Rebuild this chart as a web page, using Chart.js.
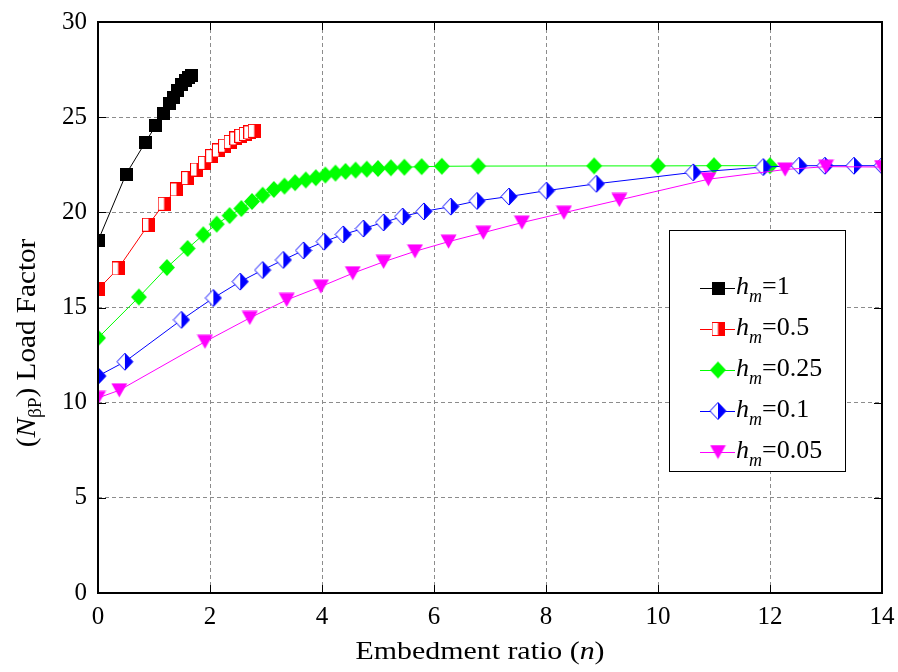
<!DOCTYPE html>
<html>
<head>
<meta charset="utf-8">
<script src="https://cdn.jsdelivr.net/npm/chart.js@4.4.0/dist/chart.umd.min.js"></script>
<style>
  html, body { margin: 0; padding: 0; background: #fff; }
  canvas { display: block; }
</style>
</head>
<body>
<canvas id="chart" width="898" height="672"></canvas>
<script>
// values
const hmLabels = ['1', '0.5', '0.25', '0.1', '0.05'];

const hm1X = [0, 0.5, 0.84, 1.03, 1.17, 1.27, 1.35, 1.42, 1.49, 1.56, 1.62, 1.67];
const hm1Y = [18.5, 22.0, 23.65, 24.55, 25.2, 25.7, 26.05, 26.4, 26.7, 26.95, 27.1, 27.2];

const hm05X = [0, 0.36, 0.9, 1.18, 1.4, 1.6, 1.76, 1.9, 2.03, 2.15, 2.26, 2.36, 2.46, 2.55, 2.63, 2.71, 2.79];
const hm05Y = [15.95, 17.05, 19.35, 20.45, 21.2, 21.8, 22.25, 22.6, 22.95, 23.25, 23.5, 23.7, 23.88, 24.02, 24.12, 24.2, 24.28];

const hm025X = [0, 0.73, 1.23, 1.6, 1.88, 2.12, 2.35, 2.56, 2.75, 2.94, 3.14, 3.33, 3.52, 3.71, 3.89, 4.06, 4.24, 4.42, 4.6, 4.8, 5.0, 5.23, 5.47, 5.78, 6.14, 6.79, 8.86, 10.0, 11.0, 12.0];
const hm025Y = [13.4, 15.55, 17.1, 18.1, 18.82, 19.38, 19.83, 20.2, 20.57, 20.9, 21.2, 21.38, 21.56, 21.7, 21.82, 21.96, 22.06, 22.15, 22.22, 22.27, 22.3, 22.34, 22.37, 22.4, 22.42, 22.43, 22.44, 22.44, 22.45, 22.45];

const hm01X = [0, 0.48, 1.49, 2.06, 2.54, 2.94, 3.31, 3.67, 4.04, 4.38, 4.74, 5.1, 5.44, 5.82, 6.3, 6.77, 7.34, 8.01, 8.9, 10.63, 11.88, 12.52, 12.98, 13.5, 14.0];
const hm01Y = [11.4, 12.15, 14.35, 15.5, 16.36, 16.97, 17.5, 18.0, 18.46, 18.84, 19.15, 19.47, 19.78, 20.05, 20.3, 20.6, 20.83, 21.14, 21.5, 22.1, 22.38, 22.45, 22.45, 22.45, 22.45];

const hm005X = [0, 0.38, 1.91, 2.71, 3.37, 3.98, 4.55, 5.1, 5.66, 6.26, 6.88, 7.57, 8.32, 9.31, 10.9, 12.27, 13.0, 14.0];
const hm005Y = [10.25, 10.65, 13.2, 14.45, 15.4, 16.1, 16.8, 17.4, 17.95, 18.46, 18.93, 19.46, 19.98, 20.65, 21.74, 22.25, 22.4, 22.38];

const xTickValues = [0, 2, 4, 6, 8, 10, 12, 14];
const yTickValues = [0, 5, 10, 15, 20, 25, 30];

const serif = '"Liberation Serif", "Times New Roman", serif';

// marker images (MATLAB style)
function makeMarker(kind, color) {
  const c = document.createElement('canvas');
  const g = c.getContext('2d');
  if (kind === 'square') {
    c.width = 13; c.height = 13;
    g.fillStyle = color;
    g.fillRect(0, 0, 13, 13);
  } else if (kind === 'halfSquare') {
    c.width = 13; c.height = 14;
    g.fillStyle = '#fff';
    g.fillRect(0.5, 0.5, 12, 13);
    g.fillStyle = color;
    g.fillRect(6.5, 0.5, 6, 13);
    g.strokeStyle = color;
    g.lineWidth = 1;
    g.strokeRect(0.5, 0.5, 12, 13);
  } else if (kind === 'diamond' || kind === 'halfDiamond') {
    const w = 16, h = 17;
    c.width = w + 2; c.height = h + 2;
    const cx = c.width / 2, cy = c.height / 2;
    g.beginPath();
    g.moveTo(cx, 1); g.lineTo(w + 1, cy); g.lineTo(cx, h + 1); g.lineTo(1, cy); g.closePath();
    if (kind === 'diamond') {
      g.fillStyle = color; g.fill();
    } else {
      g.fillStyle = '#fff'; g.fill();
      g.beginPath();
      g.moveTo(cx, 1); g.lineTo(w + 1, cy); g.lineTo(cx, h + 1); g.closePath();
      g.fillStyle = color; g.fill();
      g.beginPath();
      g.moveTo(cx, 1); g.lineTo(w + 1, cy); g.lineTo(cx, h + 1); g.lineTo(1, cy); g.closePath();
      g.strokeStyle = color; g.lineWidth = 1; g.stroke();
    }
  } else if (kind === 'triDown') {
    const w = 16, h = 14;
    c.width = w + 1; c.height = h + 1;
    g.beginPath();
    g.moveTo(0.5, 0.5); g.lineTo(w + 0.5, 0.5); g.lineTo(c.width / 2, h + 0.5); g.closePath();
    g.fillStyle = color; g.fill();
  }
  return c;
}

const seriesDefs = [
  { xs: hm1X, ys: hm1Y, color: '#000000', marker: makeMarker('square', '#000000') },
  { xs: hm05X, ys: hm05Y, color: '#ff0000', marker: makeMarker('halfSquare', '#ff0000') },
  { xs: hm025X, ys: hm025Y, color: '#00ff00', marker: makeMarker('diamond', '#00ff00') },
  { xs: hm01X, ys: hm01Y, color: '#0000ff', marker: makeMarker('halfDiamond', '#0000ff') },
  { xs: hm005X, ys: hm005Y, color: '#ff00ff', marker: makeMarker('triDown', '#ff00ff') }
];

const datasets = seriesDefs.map((s, i) => ({
  label: 'hm=' + hmLabels[i],
  data: s.xs.map((x, k) => ({ x: x, y: s.ys[k] })),
  borderColor: s.color,
  backgroundColor: s.color,
  borderWidth: 1,
  pointStyle: s.marker,
  pointRadius: 7,
  tension: 0,
  order: seriesDefs.length - i
}));

// draws a list of text runs (mixed fonts) centred at 0
function drawRuns(ctx, runs) {
  let total = 0;
  runs.forEach(r => { ctx.font = r.font; r.w = ctx.measureText(r.text).width; total += r.w; });
  let x = -total / 2;
  runs.forEach(r => {
    ctx.font = r.font;
    ctx.fillText(r.text, x, r.dy || 0);
    x += r.w;
  });
}

const framePlugin = {
  id: 'frame',
  afterDatasetsDraw(chart) {
    const { ctx, chartArea: a, scales } = chart;
    ctx.save();
    ctx.strokeStyle = '#000';
    ctx.lineWidth = 2;
    ctx.strokeRect(a.left, a.top, a.right - a.left, a.bottom - a.top);
    ctx.lineWidth = 1;
    ctx.beginPath();
    const tl = 8;
    xTickValues.forEach(v => {
      const px = Math.round(scales.x.getPixelForValue(v)) + 0.5;
      ctx.moveTo(px, a.bottom); ctx.lineTo(px, a.bottom - tl);
      ctx.moveTo(px, a.top); ctx.lineTo(px, a.top + tl);
    });
    yTickValues.forEach(v => {
      const py = Math.round(scales.y.getPixelForValue(v)) + 0.5;
      ctx.moveTo(a.left, py); ctx.lineTo(a.left + tl, py);
      ctx.moveTo(a.right, py); ctx.lineTo(a.right - tl, py);
    });
    ctx.stroke();
    ctx.restore();
  },
  afterDraw(chart) {
    const { ctx, chartArea: a } = chart;
    ctx.save();
    ctx.fillStyle = '#000';
    ctx.textBaseline = 'alphabetic';

    // x axis title
    ctx.save();
    ctx.translate((a.left + a.right) / 2 - 10, 659);
    ctx.scale(1.15, 1);
    drawRuns(ctx, [
      { text: 'Embedment ratio (', font: `26px ${serif}` },
      { text: 'n', font: `italic 26px ${serif}` },
      { text: ')', font: `26px ${serif}` }
    ]);
    ctx.restore();

    // y axis title
    ctx.save();
    ctx.translate(35, 343);
    ctx.rotate(-Math.PI / 2);
    ctx.scale(1.08, 1);
    drawRuns(ctx, [
      { text: '(', font: `27px ${serif}` },
      { text: 'N', font: `italic 27px ${serif}` },
      { text: 'βP', font: `18px ${serif}`, dy: 6 },
      { text: ')', font: `27px ${serif}` },
      { text: ' Load Factor', font: `27px ${serif}` }
    ]);
    ctx.restore();

    // legend
    const bx = 669, by = 230, bw = 176, bh = 241;
    ctx.fillStyle = '#fff';
    ctx.fillRect(bx, by, bw, bh);
    ctx.strokeStyle = '#000';
    ctx.lineWidth = 1;
    ctx.strokeRect(bx + 0.5, by + 0.5, bw, bh);
    seriesDefs.forEach((s, i) => {
      const cy = 288 + i * 41;
      ctx.strokeStyle = s.color;
      ctx.lineWidth = 1;
      ctx.beginPath();
      ctx.moveTo(700, cy + 0.5); ctx.lineTo(735, cy + 0.5);
      ctx.stroke();
      ctx.drawImage(s.marker, 718 - s.marker.width / 2, cy - s.marker.height / 2);
      ctx.fillStyle = '#000';
      let x = 736;
      ctx.font = `italic 26px ${serif}`;
      ctx.fillText('h', x, cy + 6);
      x += ctx.measureText('h').width;
      ctx.font = `italic 18px ${serif}`;
      ctx.fillText('m', x, cy + 14);
      x += ctx.measureText('m').width;
      ctx.font = `26px ${serif}`;
      ctx.fillText('=' + hmLabels[i], x, cy + 6);
    });
    ctx.restore();
  }
};

new Chart(document.getElementById('chart'), {
  type: 'line',
  data: { datasets: datasets },
  options: {
    responsive: false,
    animation: false,
    events: [],
    devicePixelRatio: 1,
    layout: { padding: { left: 0, top: 22, right: 16, bottom: 0 } },
    plugins: { legend: { display: false }, tooltip: { enabled: false } },
    scales: {
      x: {
        type: 'linear',
        min: 0,
        max: 14,
        afterBuildTicks: sc => { sc.ticks = xTickValues.map(v => ({ value: v })); },
        afterFit: sc => { sc.height = 79; sc.paddingLeft = 0; sc.paddingRight = 0; },
        grid: { color: '#8c8c8c', lineWidth: 1, drawTicks: false },
        border: { display: false, dash: [4, 3] },
        ticks: { color: '#000', padding: 9, maxRotation: 0, font: { family: serif, size: 25 } }
      },
      y: {
        type: 'linear',
        min: 0,
        max: 30,
        afterBuildTicks: sc => { sc.ticks = yTickValues.map(v => ({ value: v })); },
        afterFit: sc => { sc.width = 98; sc.paddingTop = 0; sc.paddingBottom = 0; },
        grid: { color: '#8c8c8c', lineWidth: 1, drawTicks: false },
        border: { display: false, dash: [4, 3] },
        ticks: { color: '#000', padding: 11, font: { family: serif, size: 25 } }
      }
    }
  },
  plugins: [framePlugin]
});
</script>
</body>
</html>
